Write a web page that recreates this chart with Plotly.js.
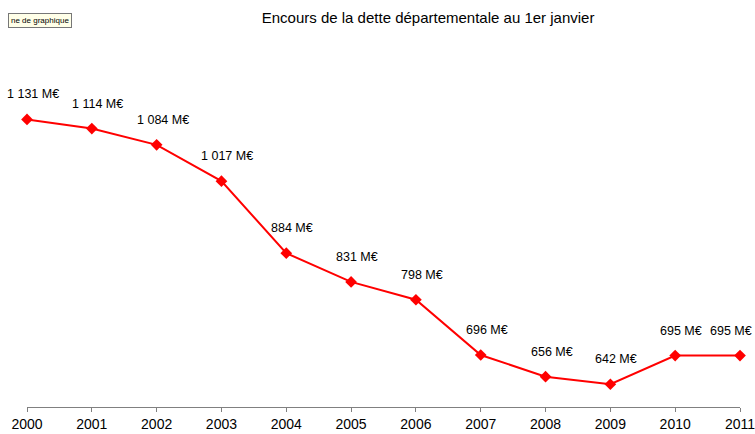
<!DOCTYPE html>
<html><head><meta charset="utf-8">
<script src="https://cdn.plot.ly/plotly-3.0.1.min.js"></script>
<style>body{margin:0;background:#fff}#chart{width:755px;height:434px}</style>
</head><body><div id="chart"></div>
<script>
const years = [2000, 2001, 2002, 2003, 2004, 2005, 2006, 2007, 2008, 2009, 2010, 2011];
const encours = [1131, 1114, 1084, 1017, 884, 831, 798, 696, 656, 642, 695, 695];
const labels = ["1 131 M€", "1 114 M€", "1 084 M€", "1 017 M€", "884 M€", "831 M€", "798 M€", "696 M€", "656 M€", "642 M€", "695 M€", "695 M€"];
const titleText = "Encours de la dette départementale au 1er janvier";
const FONT = 'Liberation Sans, Arial, sans-serif';

const annotations = years.map((y, i) => {
  const last = i === years.length - 1;
  return {
    x: y, y: encours[i], xref: 'x', yref: 'y', text: labels[i], showarrow: false,
    xanchor: last ? 'right' : 'center', yshift: 25, xshift: last ? 14 : 6,
    font: {family: FONT, size: 12.5, color: '#000'}
  };
});
annotations.push({
  xref: 'paper', yref: 'paper', x: 0, y: 1, text: 'ne de graphique', showarrow: false,
  xanchor: 'left', yanchor: 'top', xshift: 8 - 27, yshift: 82 - 13,
  font: {family: FONT, size: 8, color: '#000'},
  bgcolor: '#ffffe8', bordercolor: '#777', borderwidth: 1, borderpad: 2
});

Plotly.newPlot('chart', [{
  x: years, y: encours, mode: 'lines+markers', type: 'scatter',
  line: {color: '#ff0000', width: 2},
  marker: {symbol: 'diamond', size: 9, color: '#ff0000'},
  cliponaxis: false, hoverinfo: 'none'
}], {
  width: 755, height: 434,
  margin: {l: 27, r: 15, t: 82, b: 27},
  paper_bgcolor: '#fff', plot_bgcolor: '#fff',
  showlegend: false,
  title: {text: titleText, x: 0.567, xanchor: 'center', y: 0.958, yanchor: 'middle',
          font: {family: FONT, size: 15, color: '#000'}},
  xaxis: {range: [2000, 2011], tickvals: years, ticktext: years.map(String),
          showgrid: false, zeroline: false, showline: true, linecolor: '#808080', linewidth: 1,
          ticks: 'outside', ticklen: 4, tickcolor: '#808080', ticklabeloverflow: 'allow',
          tickfont: {family: FONT, size: 14, color: '#000'}},
  yaxis: {range: [600, 1200], visible: false, showgrid: false, zeroline: false},
  annotations: annotations
}, {staticPlot: true});
</script></body></html>
